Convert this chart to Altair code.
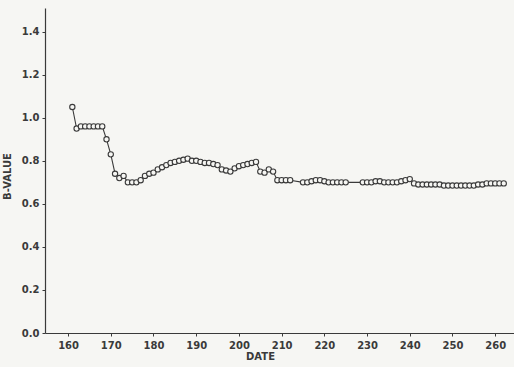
import altair as alt
import pandas as pd

days = [161, 162, 163, 164, 165, 166, 167, 168, 169, 170,
        171, 172, 173, 174, 175, 176, 177, 178, 179, 180,
        181, 182, 183, 184, 185, 186, 187, 188, 189, 190,
        191, 192, 193, 194, 195, 196, 197, 198, 199, 200,
        201, 202, 203, 204, 205, 206, 207, 208, 209, 210,
        211, 212, 215, 216, 217, 218, 219, 220, 221, 222,
        223, 224, 225, 229, 230, 231, 232, 233, 234, 235,
        236, 237, 238, 239, 240, 241, 242, 243, 244, 245,
        246, 247, 248, 249, 250, 251, 252, 253, 254, 255,
        256, 257, 258, 259, 260, 261, 262]
bvalue = [1.05, 0.95, 0.96, 0.96, 0.96, 0.96, 0.96, 0.96, 0.90, 0.83,
          0.74, 0.72, 0.73, 0.70, 0.70, 0.70, 0.71, 0.73, 0.74, 0.745,
          0.76, 0.77, 0.78, 0.79, 0.795, 0.80, 0.805, 0.81, 0.80, 0.80,
          0.795, 0.79, 0.79, 0.785, 0.78, 0.76, 0.755, 0.75, 0.765, 0.775,
          0.78, 0.785, 0.79, 0.795, 0.75, 0.745, 0.76, 0.75, 0.71, 0.71,
          0.71, 0.71, 0.70, 0.70, 0.705, 0.71, 0.71, 0.705, 0.70, 0.70,
          0.70, 0.70, 0.70, 0.70, 0.70, 0.70, 0.705, 0.705, 0.70, 0.70,
          0.70, 0.70, 0.705, 0.71, 0.715, 0.695, 0.69, 0.69, 0.69, 0.69,
          0.69, 0.69, 0.685, 0.685, 0.685, 0.685, 0.685, 0.685, 0.685, 0.685,
          0.69, 0.69, 0.695, 0.695, 0.695, 0.695, 0.695]

x_ticks = [160, 170, 180, 190, 200, 210, 220, 230, 240, 250, 260]
y_ticks = [0.0, 0.2, 0.4, 0.6, 0.8, 1.0, 1.2, 1.4]

df = pd.DataFrame({"day": days, "b": bvalue})

ink = "#3a3a3a"
bg = "#f6f6f3"
font = "DejaVu Sans"

x = alt.X("day:Q",
          scale=alt.Scale(domain=[154.6, 264.4], nice=False, zero=False),
          axis=alt.Axis(values=x_ticks, title="DATE", grid=False,
                        tickSize=3, labelPadding=4, labelFontSize=10,
                        titleFontSize=10, titleFontWeight="bold",
                        titleX=215, titleY=18, titleBaseline="top",
                        titleAlign="center"))
y = alt.Y("b:Q",
          scale=alt.Scale(domain=[0, 1.51], nice=False),
          axis=alt.Axis(values=y_ticks, format=".1f", title="B-VALUE",
                        grid=False, tickSize=3, labelPadding=3,
                        labelFontSize=10, titleFontSize=10,
                        titleFontWeight="bold", titleX=-38, titleY=168,
                        titleAngle=270, titleBaseline="middle",
                        titleAlign="center"))

line = alt.Chart(df).mark_line(color=ink, strokeWidth=1.1).encode(x=x, y=y)
pts = alt.Chart(df).mark_point(shape="circle", size=28, filled=True,
                               fill=bg, stroke=ink, strokeWidth=1.1,
                               opacity=1).encode(x=x, y=y)

chart = (line + pts).properties(
    width=469, height=325,
    padding={"left": 45, "top": 8, "right": 0, "bottom": 34},
    autosize=alt.AutoSizeParams(type="none"),
    background=bg,
).configure_view(stroke=None).configure_axis(
    domainColor=ink, tickColor=ink, labelColor=ink, titleColor=ink,
    labelFont=font, titleFont=font, labelFontWeight="bold",
    domainWidth=1.2,
)

chart.save("out.html", embed_options={"renderer": "svg", "actions": False})
